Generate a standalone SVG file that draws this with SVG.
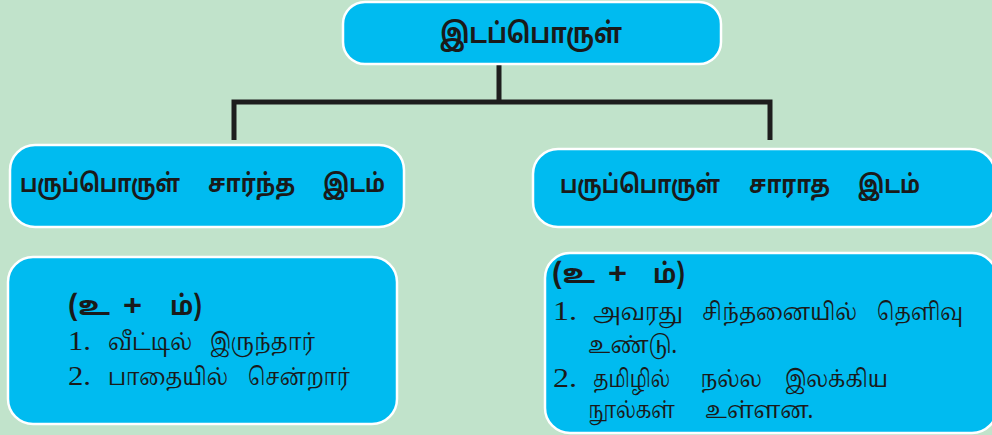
<svg xmlns="http://www.w3.org/2000/svg" width="992" height="435" viewBox="0 0 992 435">
<style>
.box{fill:#00bbf0;stroke:#ffffff;stroke-width:2.5}
.h{font-family:"Noto Sans Tamil","Noto Serif Tamil","Lohit Tamil","Latha","Noto Sans",sans-serif;font-weight:bold;fill:#1a1a1a}
.b{font-family:"Noto Serif Tamil","Noto Sans Tamil","Lohit Tamil","Latha","Liberation Serif",serif;fill:#1a1a1a;font-size:24px}
.n{font-family:"Liberation Serif",serif;font-size:27px}
.p{font-family:"Liberation Sans",sans-serif;font-weight:bold;font-size:30px}
.con{fill:none;stroke:#1e1e1e;stroke-width:5}
</style>
<rect width="992" height="435" fill="#c1e3cb"/>
<g id="connectors">
<path class="con" d="M499,64 V102 M234,140 V102 H770 V140"/>
</g>
<g id="root">
<rect class="box" x="343" y="2" width="378" height="62" rx="22"/>
<text class="h" x="440" y="43" font-size="28" textLength="182" lengthAdjust="spacingAndGlyphs">இடப்பொருள்</text>
</g>
<g id="left-head">
<rect class="box" x="10" y="145" width="394" height="82" rx="25"/>
<text class="h" y="192" font-size="25"><tspan x="20" textLength="160" lengthAdjust="spacingAndGlyphs">பருப்பொருள்</tspan><tspan x="208" textLength="87" lengthAdjust="spacingAndGlyphs">சார்ந்த</tspan><tspan x="323" textLength="62" lengthAdjust="spacingAndGlyphs">இடம்</tspan></text>
</g>
<g id="right-head">
<rect class="box" x="533" y="149" width="462" height="78" rx="25"/>
<text class="h" y="193" font-size="25"><tspan x="560" textLength="160" lengthAdjust="spacingAndGlyphs">பருப்பொருள்</tspan><tspan x="749" textLength="81" lengthAdjust="spacingAndGlyphs">சாராத</tspan><tspan x="858" textLength="62" lengthAdjust="spacingAndGlyphs">இடம்</tspan></text>
</g>
<g id="left-body">
<rect class="box" x="8" y="257" width="389" height="167" rx="25"/>
<text class="h" y="315" font-size="27"><tspan x="68" textLength="42" lengthAdjust="spacingAndGlyphs">(உ</tspan><tspan class="p" x="123" textLength="19" lengthAdjust="spacingAndGlyphs">+</tspan><tspan x="170" textLength="32" lengthAdjust="spacingAndGlyphs">ம்)</tspan></text>
<text class="b" y="350"><tspan class="n" x="68" textLength="23" lengthAdjust="spacingAndGlyphs">1.</tspan><tspan x="108" textLength="84" lengthAdjust="spacingAndGlyphs">வீட்டில்</tspan><tspan x="210" textLength="105" lengthAdjust="spacingAndGlyphs">இருந்தார்</tspan></text>
<text class="b" y="385"><tspan class="n" x="68" textLength="23" lengthAdjust="spacingAndGlyphs">2.</tspan><tspan x="108" textLength="120" lengthAdjust="spacingAndGlyphs">பாதையில்</tspan><tspan x="248" textLength="102" lengthAdjust="spacingAndGlyphs">சென்றார்</tspan></text>
</g>
<g id="right-body">
<rect class="box" x="545" y="253" width="452" height="180" rx="25"/>
<text class="h" y="283" font-size="27"><tspan x="552" textLength="43" lengthAdjust="spacingAndGlyphs">(உ</tspan><tspan class="p" x="608" textLength="19" lengthAdjust="spacingAndGlyphs">+</tspan><tspan x="653" textLength="32" lengthAdjust="spacingAndGlyphs">ம்)</tspan></text>
<text class="b" y="320"><tspan class="n" x="553" textLength="24" lengthAdjust="spacingAndGlyphs">1.</tspan><tspan x="593" textLength="90" lengthAdjust="spacingAndGlyphs">அவரது</tspan><tspan x="702" textLength="155" lengthAdjust="spacingAndGlyphs">சிந்தனையில்</tspan><tspan x="877" textLength="86" lengthAdjust="spacingAndGlyphs">தெளிவு</tspan></text>
<text class="b" y="353"><tspan x="588" textLength="89" lengthAdjust="spacingAndGlyphs">உண்டு.</tspan></text>
<text class="b" y="387"><tspan class="n" x="553" textLength="24" lengthAdjust="spacingAndGlyphs">2.</tspan><tspan x="593" textLength="77" lengthAdjust="spacingAndGlyphs">தமிழில்</tspan><tspan x="700" textLength="62" lengthAdjust="spacingAndGlyphs">நல்ல</tspan><tspan x="785" textLength="103" lengthAdjust="spacingAndGlyphs">இலக்கிய</tspan></text>
<text class="b" y="418"><tspan x="588" textLength="87" lengthAdjust="spacingAndGlyphs">நூல்கள்</tspan><tspan x="705" textLength="108" lengthAdjust="spacingAndGlyphs">உள்ளன.</tspan></text>
</g>
</svg>
